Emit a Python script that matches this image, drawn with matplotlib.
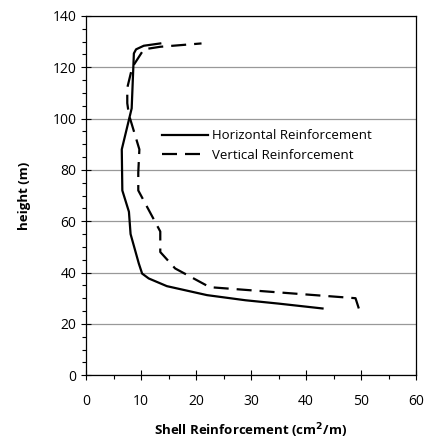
import matplotlib
matplotlib.use("Agg")
import matplotlib.pyplot as plt
from matplotlib.ticker import MultipleLocator

plt.rcParams.update({"font.family": ["Open Sans", "DejaVu Sans"], "font.size": 10})

# Horizontal reinforcement (solid), read bottom to top
horiz_x = [43.0, 35.0, 29.0, 22.0, 14.7, 11.4, 10.2, 9.6, 8.1, 7.8, 6.6, 6.5, 8.3, 8.7, 9.1, 10.5, 13.5]
horiz_h = [26.0, 27.9, 29.2, 31.2, 34.7, 37.7, 39.6, 43.5, 55.0, 63.7, 72.0, 88.0, 104.0, 125.4, 127.0, 128.4, 129.3]

# Vertical reinforcement (dashed)
vert_x = [49.6, 49.0, 22.5, 16.2, 13.5, 13.5, 9.5, 9.5, 9.7, 7.8, 7.5, 7.5, 8.4, 9.6, 10.5, 13.5, 21.0]
vert_h = [26.0, 30.0, 34.3, 41.6, 48.0, 56.0, 72.0, 79.0, 88.0, 101.5, 106.0, 112.0, 120.0, 124.0, 127.0, 128.0, 129.3]

fig = plt.figure(figsize=(4.28, 4.44), dpi=100)
ax = fig.add_axes([0.201, 0.155, 0.771, 0.809])

ax.plot(horiz_x, horiz_h, color="black", lw=1.6, label="Horizontal Reinforcement")
ax.plot(vert_x, vert_h, color="black", lw=1.6, dashes=(6.75, 3.6), label="Vertical Reinforcement")

ax.set_xlim(0, 60)
ax.set_ylim(0, 140)
ax.xaxis.set_major_locator(MultipleLocator(10))
ax.xaxis.set_minor_locator(MultipleLocator(5))
ax.yaxis.set_major_locator(MultipleLocator(20))
ax.yaxis.set_minor_locator(MultipleLocator(5))
ax.tick_params(which="major", direction="inout", length=7, width=0.8, labelsize=10)
ax.tick_params(which="minor", direction="out", length=3, width=0.8)
ax.tick_params(axis="x", which="major", pad=10)
ax.grid(axis="y", which="major", color="#999999", lw=0.9)
ax.set_axisbelow(True)
for s in ax.spines.values():
    s.set_linewidth(0.9)

ax.set_xlabel("Shell Reinforcement (cm$^\\mathbf{2}$/m)", fontweight="bold", fontsize=9.5, labelpad=9)
ax.set_ylabel("height (m)", fontweight="bold", fontsize=9.5, labelpad=15)

ax.legend(loc="upper left", bbox_to_anchor=(0.23, 0.685), frameon=False, fontsize=9.5,
          handlelength=3.5, handletextpad=0.3, labelspacing=0.5,
          borderpad=0, borderaxespad=0)

fig.savefig("out.png", dpi=100)
